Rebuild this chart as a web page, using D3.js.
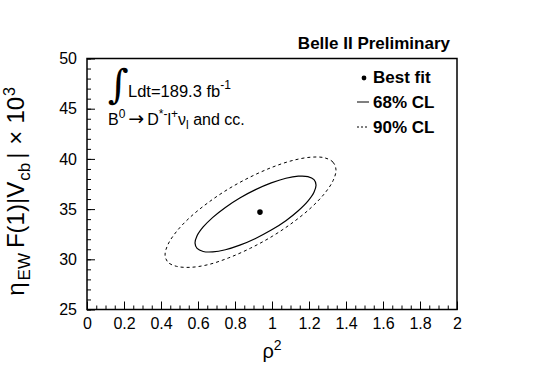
<!DOCTYPE html>
<html>
<head>
<meta charset="utf-8">
<script src="https://cdn.jsdelivr.net/npm/d3@7"></script>
<style>
  body { margin: 0; background: #fff; }
  svg { display: block; }
  text { font-family: "Liberation Sans", Arial, Helvetica, sans-serif; fill: #000; }
</style>
</head>
<body>
<svg id="chart"></svg>
<script>
'use strict'

const WIDTH = 545;
const HEIGHT = 369;

// 90% CL contour (rho^2, eta_EW F(1)|Vcb| x 1e3)
const outerRho2 = [1.346, 1.330, 1.284, 1.211, 1.115, 1.004, 0.884, 0.764, 0.653, 0.557, 0.484, 0.438,
                   0.422, 0.438, 0.484, 0.557, 0.653, 0.764, 0.884, 1.004, 1.115, 1.211, 1.284, 1.330];
const outerEta  = [38.90, 39.67, 40.11, 40.17, 39.86, 39.19, 38.21, 37.00, 35.62, 34.18, 32.77, 31.49,
                   30.42, 29.70, 29.30, 29.20, 29.46, 30.13, 31.11, 32.32, 33.70, 35.14, 36.55, 37.83];

// 68% CL contour
const innerRho2 = [1.238, 1.227, 1.194, 1.142, 1.075, 0.996, 0.911, 0.826, 0.748, 0.680, 0.628, 0.595,
                   0.584, 0.595, 0.628, 0.680, 0.748, 0.826, 0.911, 0.996, 1.075, 1.142, 1.194, 1.227];
const innerEta  = [37.41, 37.94, 38.24, 38.28, 38.07, 37.61, 36.94, 36.11, 35.17, 34.18, 33.22, 32.34,
                   31.61, 31.08, 30.78, 30.74, 30.95, 31.41, 32.08, 32.91, 33.85, 34.84, 35.80, 36.68];

const bestFitRho2 = 0.935;
const bestFitEta = 34.7;

const xTicks = [0, 0.2, 0.4, 0.6, 0.8, 1, 1.2, 1.4, 1.6, 1.8, 2];
const yTicks = [25, 30, 35, 40, 45, 50];
const legendLabels = ['Best fit', '68% CL', '90% CL'];

const margin = {left: 87, right: 88, top: 58.5, bottom: 59.5};

const svg = d3.select('#chart')
  .attr('width', WIDTH)
  .attr('height', HEIGHT);

const xScale = d3.scaleLinear().domain([0, 2]).range([margin.left, WIDTH - margin.right]);
const yScale = d3.scaleLinear().domain([25, 50]).range([HEIGHT - margin.bottom, margin.top]);

// minor ticks
const xMinor = d3.range(0, 2.0001, 0.05);
const yMinor = d3.range(25, 50.0001, 1);

svg.append('g')
  .attr('transform', 'translate(0,' + yScale(25) + ')')
  .call(d3.axisBottom(xScale).tickValues(xMinor).tickSize(-4).tickFormat(''))
  .call(g => g.select('.domain').remove());

svg.append('g')
  .attr('transform', 'translate(' + xScale(0) + ',0)')
  .call(d3.axisLeft(yScale).tickValues(yMinor).tickSize(-4).tickFormat(''))
  .call(g => g.select('.domain').remove());

// major ticks + labels
const bottomAxis = svg.append('g')
  .attr('transform', 'translate(0,' + yScale(25) + ')')
  .call(d3.axisBottom(xScale).tickValues(xTicks).tickSize(-8).tickPadding(8)
    .tickFormat(d => d3.format('~g')(d)));
bottomAxis.select('.domain').remove();
bottomAxis.selectAll('text').style('font-size', '16px').attr('font-family', null);

const leftAxis = svg.append('g')
  .attr('transform', 'translate(' + xScale(0) + ',0)')
  .call(d3.axisLeft(yScale).tickValues(yTicks).tickSize(-8).tickPadding(10));
leftAxis.select('.domain').remove();
leftAxis.selectAll('text').style('font-size', '16px').attr('font-family', null);

svg.selectAll('.tick line').attr('stroke', '#000');

// frame
svg.append('rect')
  .attr('x', xScale(0))
  .attr('y', yScale(50))
  .attr('width', xScale(2) - xScale(0))
  .attr('height', yScale(25) - yScale(50))
  .attr('fill', 'none')
  .attr('stroke', '#000')
  .attr('stroke-width', 1.5);

// contours
const contour = d3.line()
  .x(d => xScale(d[0]))
  .y(d => yScale(d[1]))
  .curve(d3.curveCatmullRomClosed);

svg.append('path')
  .datum(d3.zip(outerRho2, outerEta))
  .attr('d', contour)
  .attr('fill', 'none')
  .attr('stroke', '#000')
  .attr('stroke-width', 1)
  .attr('stroke-dasharray', '3,3');

svg.append('path')
  .datum(d3.zip(innerRho2, innerEta))
  .attr('d', contour)
  .attr('fill', 'none')
  .attr('stroke', '#000')
  .attr('stroke-width', 1.2);

svg.append('circle')
  .attr('cx', xScale(bestFitRho2))
  .attr('cy', yScale(bestFitEta))
  .attr('r', 2.8)
  .attr('fill', '#000');

// axis titles
svg.append('text')
  .attr('x', (xScale(0) + xScale(2)) / 2)
  .attr('y', 358)
  .attr('text-anchor', 'middle')
  .style('font-size', '20px')
  .html('ρ<tspan dy="-8" style="font-size:14px">2</tspan>');

svg.append('text')
  .attr('transform', 'translate(24,87) rotate(-90)')
  .attr('text-anchor', 'end')
  .style('font-size', '24px')
  .html('η<tspan dy="6" dx="2" style="font-size:17px">EW</tspan>' +
        '<tspan dy="-6" dx="5">F(1)|V</tspan><tspan dy="6" dx="1" style="font-size:17px">cb</tspan>' +
        '<tspan dy="-6" dx="4">|</tspan><tspan dx="8">×</tspan><tspan dx="7">10</tspan>' +
        '<tspan dy="-9" dx="1" style="font-size:16px">3</tspan>');

// header
svg.append('text')
  .attr('x', 450)
  .attr('y', 49)
  .attr('text-anchor', 'end')
  .style('font-size', '17px')
  .style('font-weight', 'bold')
  .text('Belle II Preliminary');

// luminosity + channel
svg.append('text')
  .attr('x', 108)
  .attr('y', 98)
  .style('font-size', '40px')
  .style('font-family', 'DejaVu Serif')
  .text('∫');

svg.append('text')
  .attr('x', 128)
  .attr('y', 97)
  .style('font-size', '16.5px')
  .html('Ldt=189.3 fb<tspan dy="-8" style="font-size:12px">-1</tspan>');

svg.append('text')
  .attr('x', 108)
  .attr('y', 125)
  .style('font-size', '16px')
  .html('B<tspan dy="-7" style="font-size:12px">0</tspan>' +
        '<tspan dy="7" dx="3" style="font-family:\'DejaVu Sans\';font-size:19px">→</tspan><tspan dx="3">D</tspan>' +
        '<tspan dy="-7" style="font-size:12px">*-</tspan><tspan dy="7">l</tspan>' +
        '<tspan dy="-7" style="font-size:12px">+</tspan><tspan dy="7">ν</tspan>' +
        '<tspan dy="4" style="font-size:12px">l</tspan><tspan dy="-4"> and cc.</tspan>');

// legend
const legend = svg.append('g');
const rowY = d => 83 + d * 25;

legend.selectAll('text')
  .data(legendLabels)
  .enter().append('text')
  .attr('x', 373)
  .attr('y', (d, i) => rowY(i))
  .style('font-size', '17px')
  .style('font-weight', 'bold')
  .text(d => d);

legend.append('circle')
  .attr('cx', 364)
  .attr('cy', rowY(0) - 5)
  .attr('r', 2.4)
  .attr('fill', '#000');

legend.append('line')
  .attr('x1', 357).attr('x2', 369)
  .attr('y1', rowY(1) - 6).attr('y2', rowY(1) - 6)
  .attr('stroke', '#000');

legend.append('line')
  .attr('x1', 357).attr('x2', 369)
  .attr('y1', rowY(2) - 6).attr('y2', rowY(2) - 6)
  .attr('stroke', '#000')
  .attr('stroke-dasharray', '2,2');
</script>
</body>
</html>
